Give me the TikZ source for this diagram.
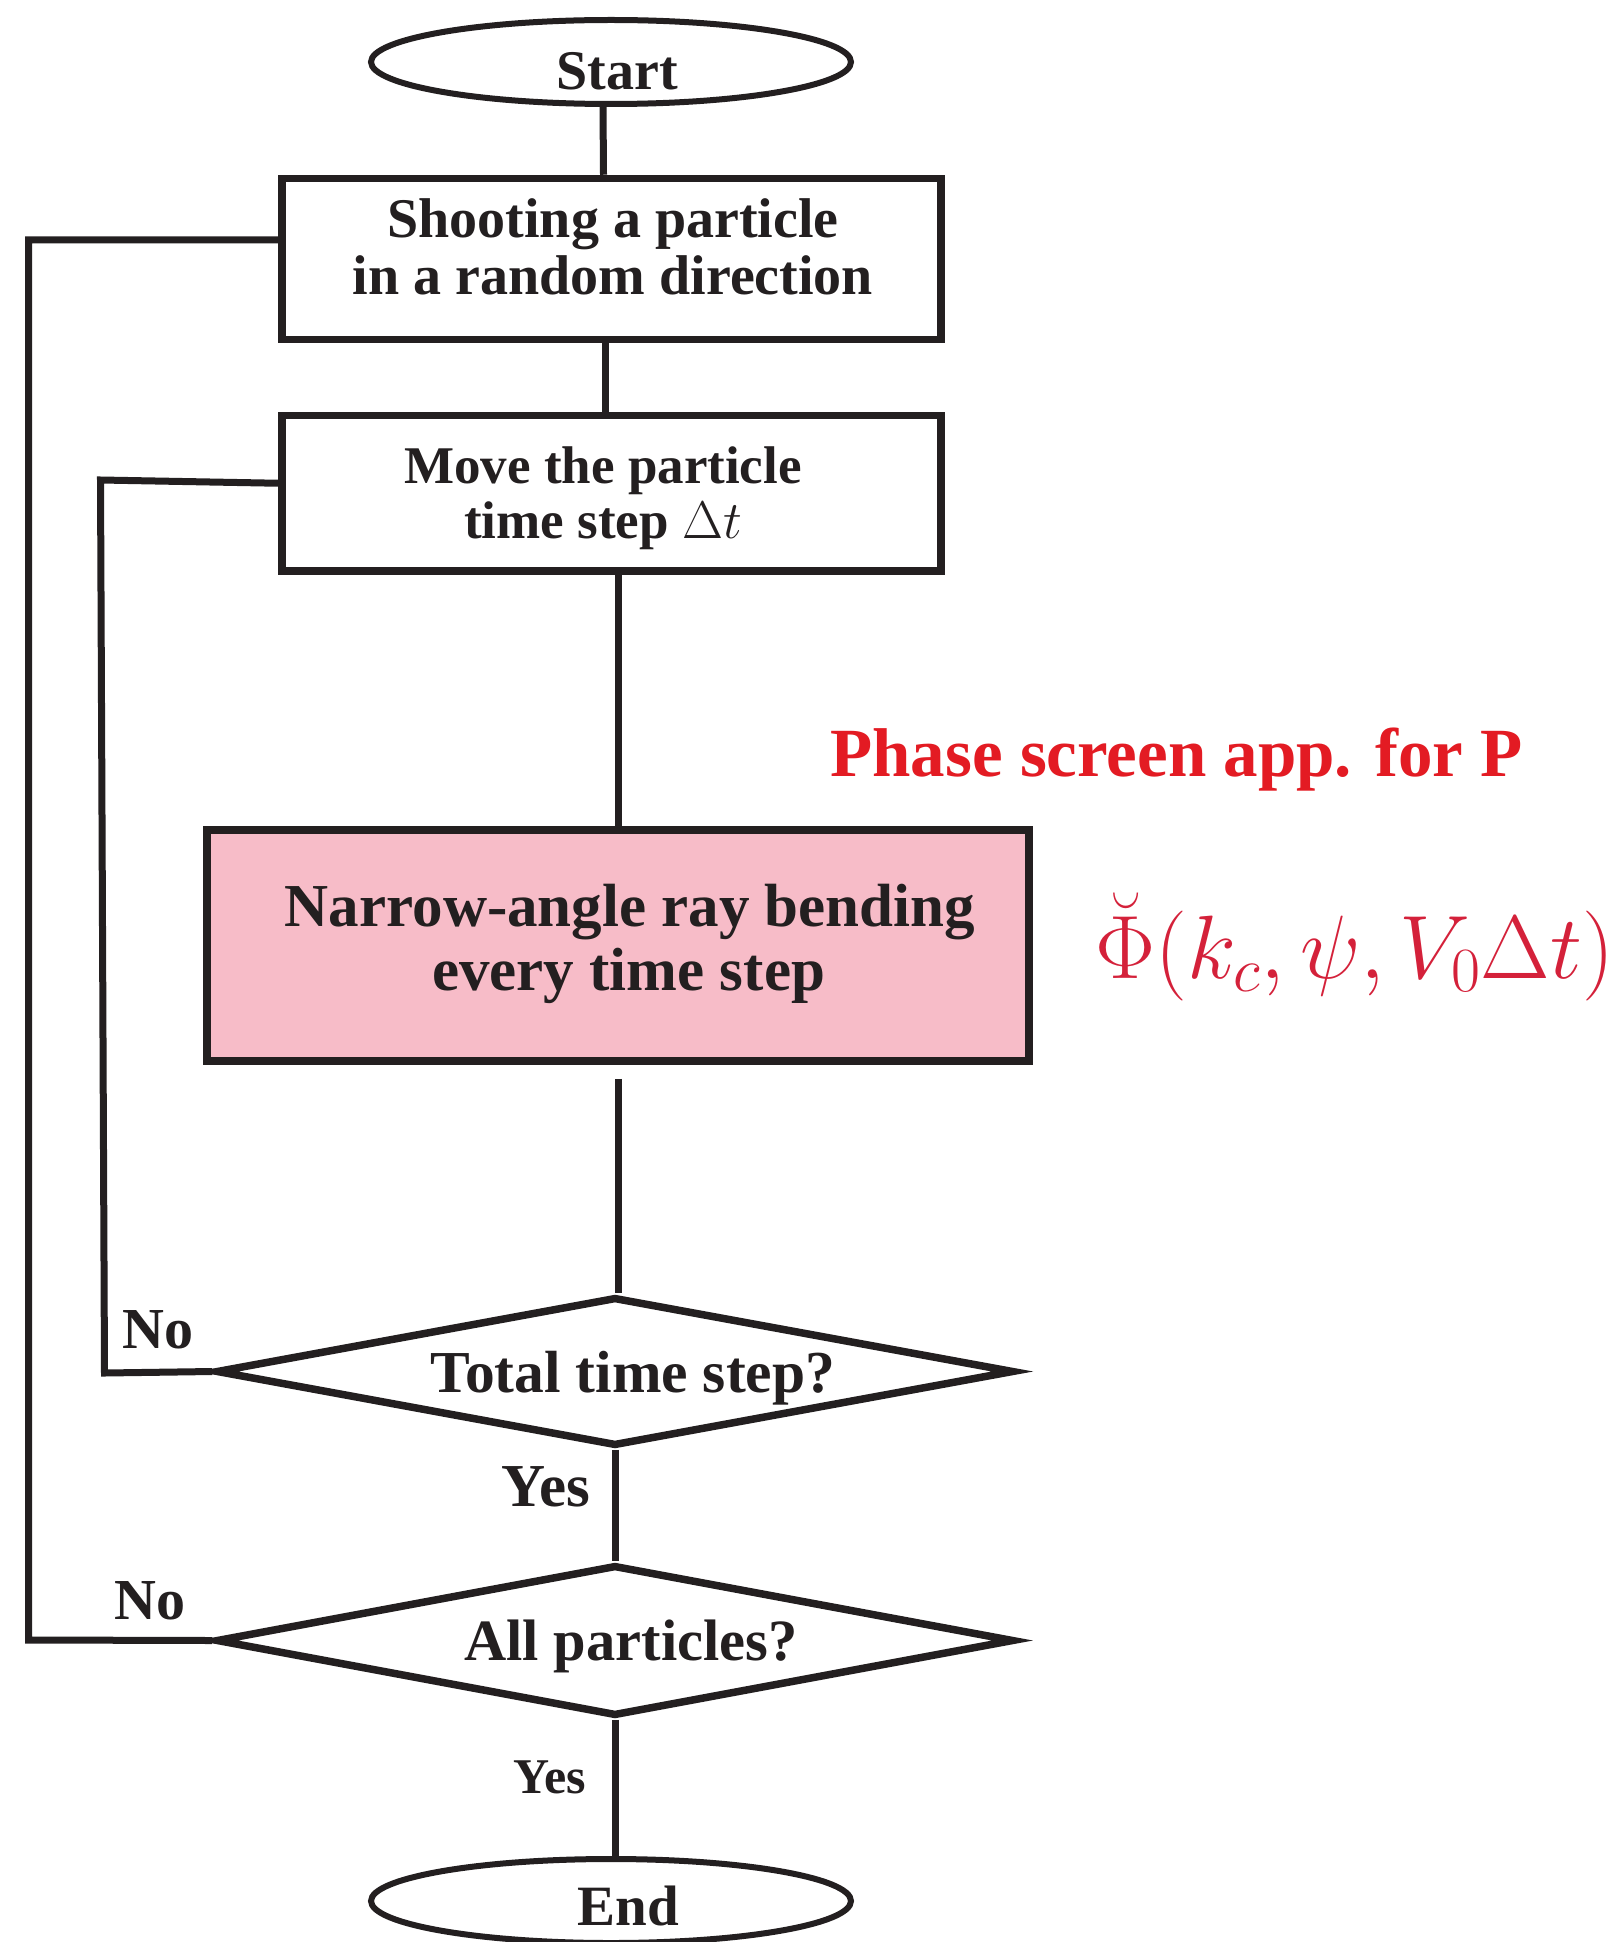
\RequirePackage{fix-cm}
\documentclass[tikz,border=0pt]{standalone}
\usepackage[no-math]{fontspec}
\setmainfont{Liberation Serif}
\usetikzlibrary{shapes.geometric}
\definecolor{ink}{HTML}{231F20}
\definecolor{pinkfill}{HTML}{F7BCC8}
\definecolor{titlered}{HTML}{E31B23}
\definecolor{mathred}{HTML}{D4213A}
\newcommand{\fsz}[1]{\fontsize{#1}{#1}\selectfont}
\begin{document}
\begin{tikzpicture}[x=1pt,y=-1pt,
  box/.style={draw=ink, line width=7.5pt, rectangle, inner sep=0pt},
  term/.style={draw=ink, line width=6pt, ellipse, inner sep=0pt, minimum width=480pt, minimum height=84pt},
  dia/.style={draw=ink, line width=7.5pt, diamond, inner sep=0pt, minimum width=798pt},
  conn/.style={draw=ink, line width=7pt},
  lbl/.style={inner sep=0pt, anchor=base, text=ink},
]
\useasboundingbox (0,0) rectangle (1621,1942);

% shapes
\node[term] (start) at (611,62) {};
\node[box, minimum width=659pt, minimum height=161pt] (box1) at (611.5,259) {};
\node[box, minimum width=659pt, minimum height=155.5pt] (box2) at (611.5,493.25) {};
\node[box, fill=pinkfill, minimum width=822pt, minimum height=231pt] (pink) at (618,945.5) {};
\node[dia, minimum height=149pt] (d1) at (615,1371.5) {};
\node[dia, minimum height=151pt] (d2) at (615,1640.5) {};
\node[term] (end) at (611,1901) {};

% texts
\node[lbl, font=\bfseries\fsz{56}] (tstart) at (617,90) {Start};
\node[lbl, font=\bfseries\fsz{56}] (t1a) at (613,238) {Shooting a particle};
\node[lbl, font=\bfseries\fsz{56}] (t1b) at (613,295) {in a random direction};
\node[lbl, font=\bfseries\fsz{53}] (t2a) at (603,483) {Move the particle};
\node[lbl, font=\bfseries\fsz{53}] (t2b) at (603,538) {time step $\Delta t$};
\node[lbl, font=\bfseries\fsz{61}] (t3a) at (630,926) {Narrow-angle ray bending};
\node[lbl, font=\bfseries\fsz{61}] (t3b) at (628.5,990) {every time step};
\node[lbl, font=\bfseries\fsz{59.5}] (t4) at (633,1392) {Total time step?};
\node[lbl, font=\bfseries\fsz{58.5}] (t5) at (631,1660) {All particles?};
\node[lbl, font=\bfseries\fsz{57}] (tend) at (628,1925) {End};
\node[lbl, font=\bfseries\fsz{58}] (no1) at (158,1348.5) {No};
\node[lbl, font=\bfseries\fsz{58}] (no2) at (150,1619) {No};
\node[lbl, font=\bfseries\fsz{61}] (yes1) at (546,1506) {Yes};
\node[lbl, font=\bfseries\fsz{50}] (yes2) at (550,1793.5) {Yes};
\node[inner sep=0pt, anchor=base, text=titlered, font=\bfseries\fsz{69}] (title) at (1176.5,776) {Phase screen app. for P};
\node[inner sep=0pt, anchor=base, text=mathred, font=\fsz{90}] (phi) at (1355,978) {$\breve{\Phi}(k_c,\psi,V_0\Delta t)$};

% connectors
\draw[conn] ([xshift=-8pt]start.south) -- ([xshift=-8pt]box1.north);
\draw[conn] ([xshift=-6.5pt]box1.south) -- ([xshift=-6.5pt]box2.north);
\draw[conn] (box2.south -| pink.north) -- (pink.north);
\draw[conn] ([yshift=-14pt]pink.south) -- (pink.south |- d1.north);
\draw[conn] (d1.south) -- (d2.north);
\draw[conn] (d2.south) -- (d2.south |- end.north);

\coordinate (oc1) at (28.5,240);
\coordinate (oc2) at (28.5,1640);
\draw[conn] ([yshift=19pt]box1.west) -- (oc1) -- (oc2) -- (d2.west);
\coordinate (ic1) at (100.5,480);
\coordinate (ic2) at (104.5,1373);
\draw[conn] ([yshift=10pt]box2.west) -- (ic1) -- (ic2) -- (d1.west);
\end{tikzpicture}
\end{document}
